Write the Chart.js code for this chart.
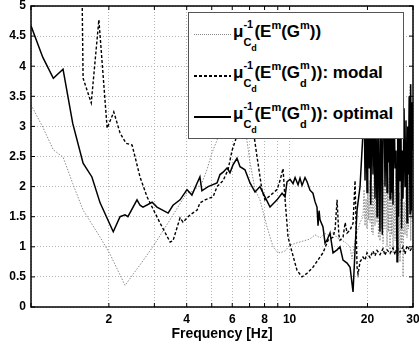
<!DOCTYPE html>
<html lang="en">
<head>
    <meta charset="UTF-8">
    <title>Structured singular value vs frequency</title>
    <script src="https://cdn.jsdelivr.net/npm/chart.js"></script>
    <style>
        body {
            margin: 0;
            background: #ffffff;
            font-family: 'Liberation Sans', Arial, sans-serif;
        }

        .wrap {
            position: relative;
            width: 419px;
            height: 347px;
        }

        #legend {
            position: absolute;
            left: 188px;
            top: 12px;
            width: 216px;
            height: 127px;
            box-sizing: border-box;
            background: #ffffff;
            border: 1px solid #555;
            font: bold 17px 'Liberation Sans', Arial, sans-serif;
            color: #000;
        }

        .item {
            position: absolute;
            left: 0;
            right: 0;
            height: 40px;
        }

        .swatch {
            position: absolute;
            left: 5px;
            width: 37px;
            top: 21px;
        }
        .sw-dot { height: 1px; background: repeating-linear-gradient(to right, #888 0 1px, transparent 1px 2px); }
        .sw-dash { height: 1.5px; background: repeating-linear-gradient(to right, #000 0 3px, transparent 3px 5px); }
        .sw-solid { height: 1.5px; background: #000; }

        .label {
            position: absolute;
            left: 44px;
            top: 9px;
            line-height: 20px;
            white-space: nowrap;
        }

        /* stacked super/subscripts on mu and G */
        .stk {
            display: inline-block;
            position: relative;
            height: 0;
            width: 11px;
        }
        .stk .hi {
            position: absolute;
            left: 0;
            bottom: 7px;
            font-size: 11px;
            line-height: 11px;
        }
        .stk .lo {
            position: absolute;
            left: 0;
            top: 0;
            font-size: 11px;
            line-height: 11px;
        }
        .lo2 {
            font-size: 9px;
            position: relative;
            top: 5px;
        }
        .up {
            font-size: 11px;
            position: relative;
            top: -8px;
        }
    </style>
</head>
<body>
<div class="wrap">
    <canvas id="mu"></canvas>
    <div id="legend">
        <div class="item" style="top:0">
            <div class="swatch sw-dot"></div>
            <div class="label">μ<span class="stk"><span class="hi">-1</span><span class="lo">C<span class="lo2">d</span></span></span>(E<span class="up">m</span>(G<span class="up">m</span>))</div>
        </div>
        <div class="item" style="top:41px">
            <div class="swatch sw-dash"></div>
            <div class="label">μ<span class="stk"><span class="hi">-1</span><span class="lo">C<span class="lo2">d</span></span></span>(E<span class="up">m</span>(G<span class="stk"><span class="hi">m</span><span class="lo">d</span></span>)): modal</div>
        </div>
        <div class="item" style="top:82px">
            <div class="swatch sw-solid"></div>
            <div class="label">μ<span class="stk"><span class="hi">-1</span><span class="lo">C<span class="lo2">d</span></span></span>(E<span class="up">m</span>(G<span class="stk"><span class="hi">m</span><span class="lo">d</span></span>)): optimal</div>
        </div>
    </div>
</div>

<script>
    // full model
    const fullFreq = [1.00, 1.11, 1.22, 1.33, 1.39, 1.45, 1.59, 1.85, 2.02, 2.31, 2.64, 2.96, 3.45, 4.01, 4.23, 4.58, 4.79, 5.01,
        5.38, 5.73, 6.04, 6.43, 6.72, 7.03, 7.35, 7.68, 8.18, 8.63, 8.94, 9.18, 9.60, 10.04, 10.97, 11.99, 12.54, 13.11, 13.71,
        14.33, 14.72, 15.26, 15.66, 16.38, 17.13, 17.43, 17.91, 18.23, 18.72,
        19.22, 19.40, 19.57, 19.75, 19.92, 20.05, 20.20, 20.33, 20.46, 20.60, 20.75, 20.88, 21.01, 21.20, 21.39, 21.58, 21.78,
        21.92, 22.05, 22.20, 22.36, 22.52, 22.67, 22.82, 22.97, 23.17, 23.38, 23.60, 23.81, 23.95, 24.10, 24.28, 24.45, 24.62,
        24.80, 24.95, 25.11, 25.34, 25.57, 25.80, 26.02, 26.18, 26.35, 26.54, 26.73, 26.92, 27.10, 27.28, 27.45, 27.70, 27.94,
        28.18, 28.44, 28.62, 28.80, 29.00, 29.21, 29.40, 29.60, 29.80, 30.00];
    const fullMu = [3.36, 2.99, 2.61, 2.49, 2.27, 2.05, 1.61, 1.16, 0.88, 0.36, 0.70, 1.00, 1.45, 1.90, 1.92, 2.06, 2.28, 2.56,
        2.90, 3.20, 3.40, 3.30, 3.00, 2.40, 1.95, 1.78, 1.33, 1.00, 0.92, 0.90, 0.93, 1.03, 1.08, 1.13, 1.20, 1.15, 1.22,
        1.18, 1.24, 1.15, 1.12, 1.08, 1.00, 0.80, 1.10, 1.25, 1.40,
        1.50, 1.95, 1.35, 1.80, 1.30, 2.00, 1.45, 2.10, 1.40, 2.20, 1.25, 2.00, 1.20, 2.30, 1.35, 2.15, 1.40,
        2.25, 1.15, 2.05, 1.10, 2.20, 1.30, 2.35, 1.05, 2.10, 1.30, 2.40, 1.00, 2.05, 1.25, 2.15, 0.95, 2.00,
        1.20, 2.10, 0.90, 1.95, 1.10, 2.20, 1.00, 1.85, 0.85, 1.90, 0.75, 1.80, 1.05, 1.90, 0.50, 1.75, 1.20,
        1.95, 1.15, 2.05, 1.30, 2.40, 3.70, 1.10, 2.60, 1.40, 2.00];

    // decentralized, modal
    const modalFreq = [1.575, 1.59, 1.71, 1.83, 1.97, 2.09, 2.21, 2.33, 2.46, 2.64, 2.81, 3.15, 3.45, 3.54, 3.77, 3.87, 4.12,
        4.39, 4.50, 4.71, 5.06, 5.24, 5.53, 5.78, 5.99, 6.26, 6.55, 6.90, 7.20, 7.48, 7.82, 8.03, 8.40, 8.94, 9.18, 9.43, 9.60,
        9.86, 10.31, 10.68, 11.17, 11.68, 12.31, 13.11, 13.46, 14.08, 14.72, 15.00, 15.26, 15.50, 15.66, 16.09, 16.40, 16.68,
        17.13, 17.59, 17.91, 18.23, 18.39, 18.72, 19.22, 19.57, 19.92, 20.46, 21.01, 21.39, 21.78, 22.36, 22.97, 23.38, 23.81,
        24.45, 25.11, 25.57, 26.02, 26.73, 27.45, 27.94, 28.44, 29.21, 30.00];
    const modalMu = [5.30, 3.80, 3.39, 4.77, 2.97, 3.24, 2.89, 2.72, 2.69, 2.16, 1.83, 1.40, 1.08, 1.10, 1.48, 1.41, 1.53,
        1.61, 1.73, 1.78, 1.83, 2.00, 2.10, 2.28, 2.60, 2.85, 3.30, 3.50, 3.00, 2.50, 1.94, 1.78, 1.85, 1.95, 2.10, 2.30, 1.80,
        1.16, 0.85, 0.61, 0.50, 0.56, 0.66, 0.83, 0.90, 1.11, 1.16, 1.30, 1.78, 1.20, 1.11, 1.16, 1.40, 1.23,
        1.28, 1.39, 2.10, 0.66, 0.55, 0.75, 0.83, 0.78, 0.90, 0.82, 0.93, 0.85, 0.94, 0.87, 0.97, 0.86, 0.95,
        0.89, 0.98, 0.87, 0.99, 0.91, 1.00, 0.88, 1.02, 0.93, 1.02];

    // decentralized, optimal
    const optFreq = [1.00, 1.11, 1.22, 1.33, 1.45, 1.59, 1.72, 1.85, 2.08, 2.21, 2.31, 2.37, 2.57, 2.64, 2.71, 2.94, 3.07, 3.39,
        3.54, 3.77, 4.01, 4.19, 4.39, 4.50, 4.58, 4.84, 5.24, 5.38, 5.53, 5.73, 5.88, 6.04, 6.26, 6.43, 6.72, 7.03, 7.35, 7.68,
        8.03, 8.40, 8.94, 9.35, 9.60, 9.77, 10.04, 10.31, 10.50, 10.78, 10.97, 11.17, 11.47, 11.68, 11.99, 12.31, 12.54, 12.76,
        12.88, 13.00, 13.11, 13.46, 13.71, 13.95, 14.33, 14.72, 15.26, 15.66, 16.09, 16.68, 17.13, 17.59, 17.91, 18.23, 18.72,
        19.22, 19.40, 19.57, 19.75, 19.92, 20.05, 20.20, 20.33, 20.46, 20.60, 20.75, 20.88, 21.01, 21.20, 21.39, 21.58, 21.78,
        21.92, 22.05, 22.20, 22.36, 22.52, 22.67, 22.82, 22.97, 23.17, 23.38, 23.60, 23.81, 23.95, 24.10, 24.28, 24.45, 24.62,
        24.80, 24.95, 25.11, 25.34, 25.57, 25.80, 26.02, 26.18, 26.35, 26.54, 26.73, 26.92, 27.10, 27.28, 27.45, 27.70, 27.94,
        28.18, 28.44, 28.62, 28.80, 29.00, 29.21, 29.40, 29.60, 29.80, 30.00];
    const optMu = [4.67, 4.15, 3.80, 3.95, 3.05, 2.39, 2.16, 1.73, 1.25, 1.50, 1.53, 1.50, 1.78, 1.69, 1.66, 1.74, 1.66, 1.56,
        1.69, 1.78, 1.95, 1.86, 2.06, 2.16, 1.93, 2.00, 2.06, 2.20, 2.24, 2.31, 2.23, 2.36, 2.47, 2.33, 2.28, 2.06, 1.91, 2.00,
        1.83, 1.66, 1.78, 1.89, 1.83, 2.08, 2.12, 2.05, 2.15, 2.03, 2.14, 2.02, 2.15, 2.08, 1.94, 1.89, 1.75, 1.66,
        1.35, 1.60, 1.45, 1.33, 1.06, 1.11, 1.23, 0.90, 0.95, 1.00, 0.78, 0.73, 0.66, 0.25, 0.95, 1.61, 2.00,
        2.90, 3.60, 2.10, 3.30, 1.90, 2.80, 3.40, 2.30, 3.60, 1.70, 2.90, 3.50, 2.20, 3.30, 1.80, 3.10, 1.50,
        2.70, 3.40, 2.10, 1.25, 3.50, 2.60, 1.20, 2.90, 3.60, 2.00, 3.20, 1.90, 3.70, 2.40, 3.60, 1.80, 3.10,
        1.90, 2.90, 1.70, 3.40, 2.30, 2.60, 0.75, 3.20, 1.50, 3.00, 2.10, 3.40, 1.30, 2.60, 1.80, 3.30, 2.00,
        3.10, 1.40, 3.00, 2.20, 3.50, 1.55, 3.70, 1.60, 3.40, 2.60];

    const xGrid = [1, 2, 3, 4, 5, 6, 7, 8, 9, 10, 20, 30];
    const xTickLabels = [2, 4, 6, 8, 10, 20, 30];

    const toPoints = (fs, vs) => fs.map((f, i) => ({ x: f, y: vs[i] }));

    // box around the plot with inward tick marks on all four sides
    const frame = {
        id: 'frame',
        afterDatasetsDraw(chart) {
            const { ctx, chartArea: a, scales: { x, y } } = chart;
            const len = 4;
            ctx.save();
            ctx.strokeStyle = '#000';
            ctx.lineWidth = 1.5;
            ctx.strokeRect(a.left, a.top, a.right - a.left, a.bottom - a.top);
            ctx.lineWidth = 1;
            ctx.beginPath();
            x.ticks.forEach(t => {
                const px = x.getPixelForValue(t.value);
                ctx.moveTo(px, a.bottom); ctx.lineTo(px, a.bottom - len);
                ctx.moveTo(px, a.top); ctx.lineTo(px, a.top + len);
            });
            y.ticks.forEach(t => {
                const py = y.getPixelForValue(t.value);
                ctx.moveTo(a.left, py); ctx.lineTo(a.left + len, py);
                ctx.moveTo(a.right, py); ctx.lineTo(a.right - len, py);
            });
            ctx.stroke();
            ctx.restore();
        }
    };

    Chart.defaults.font.family = "'Liberation Sans', Arial, sans-serif";
    Chart.defaults.font.weight = 'bold';
    Chart.defaults.color = '#000';

    new Chart(document.getElementById('mu'), {
        type: 'line',
        data: {
            datasets: [
                {
                    data: toPoints(fullFreq, fullMu),
                    borderColor: '#8c8c8c',
                    borderWidth: 1,
                    borderDash: [1.5, 1.5],
                    order: 2
                },
                {
                    data: toPoints(modalFreq, modalMu),
                    borderColor: '#000',
                    borderWidth: 1.4,
                    borderDash: [3, 2],
                    order: 1
                },
                {
                    data: toPoints(optFreq, optMu),
                    borderColor: '#000',
                    borderWidth: 1.5,
                    order: 0
                }
            ]
        },
        options: {
            responsive: true,
            maintainAspectRatio: false,
            animation: false,
            events: [],
            elements: { point: { radius: 0 }, line: { tension: 0 } },
            layout: { padding: { top: 6, right: 6, left: 0, bottom: 0 } },
            plugins: { legend: { display: false }, tooltip: { enabled: false } },
            scales: {
                x: {
                    type: 'logarithmic',
                    min: 1,
                    max: 30,
                    afterBuildTicks: axis => { axis.ticks = xGrid.map(v => ({ value: v })); },
                    afterFit: axis => {
                        axis.height = 40;
                        axis.paddingLeft = 0;
                        axis.paddingRight = 0;
                    },
                    ticks: {
                        autoSkip: false,
                        maxRotation: 0,
                        padding: 5,
                        font: { size: 12, weight: 'bold' },
                        callback: v => xTickLabels.includes(v) ? String(v) : ''
                    },
                    grid: { color: '#b4b4b4', lineWidth: 1, drawTicks: false },
                    border: { display: false, dash: [1, 2] },
                    title: {
                        display: true,
                        text: 'Frequency [Hz]',
                        font: { size: 14, weight: 'bold' },
                        padding: { top: 0, bottom: 4 }
                    }
                },
                y: {
                    min: 0,
                    max: 5,
                    afterFit: axis => {
                        axis.width = 31;
                        axis.paddingTop = 0;
                        axis.paddingBottom = 0;
                    },
                    ticks: {
                        stepSize: 0.5,
                        padding: 5,
                        font: { size: 12, weight: 'bold' },
                        callback: v => String(Math.round(v * 10) / 10)
                    },
                    grid: { color: '#b4b4b4', lineWidth: 1, drawTicks: false },
                    border: { display: false, dash: [1, 2] }
                }
            }
        },
        plugins: [frame]
    });
</script>
</body>
</html>
